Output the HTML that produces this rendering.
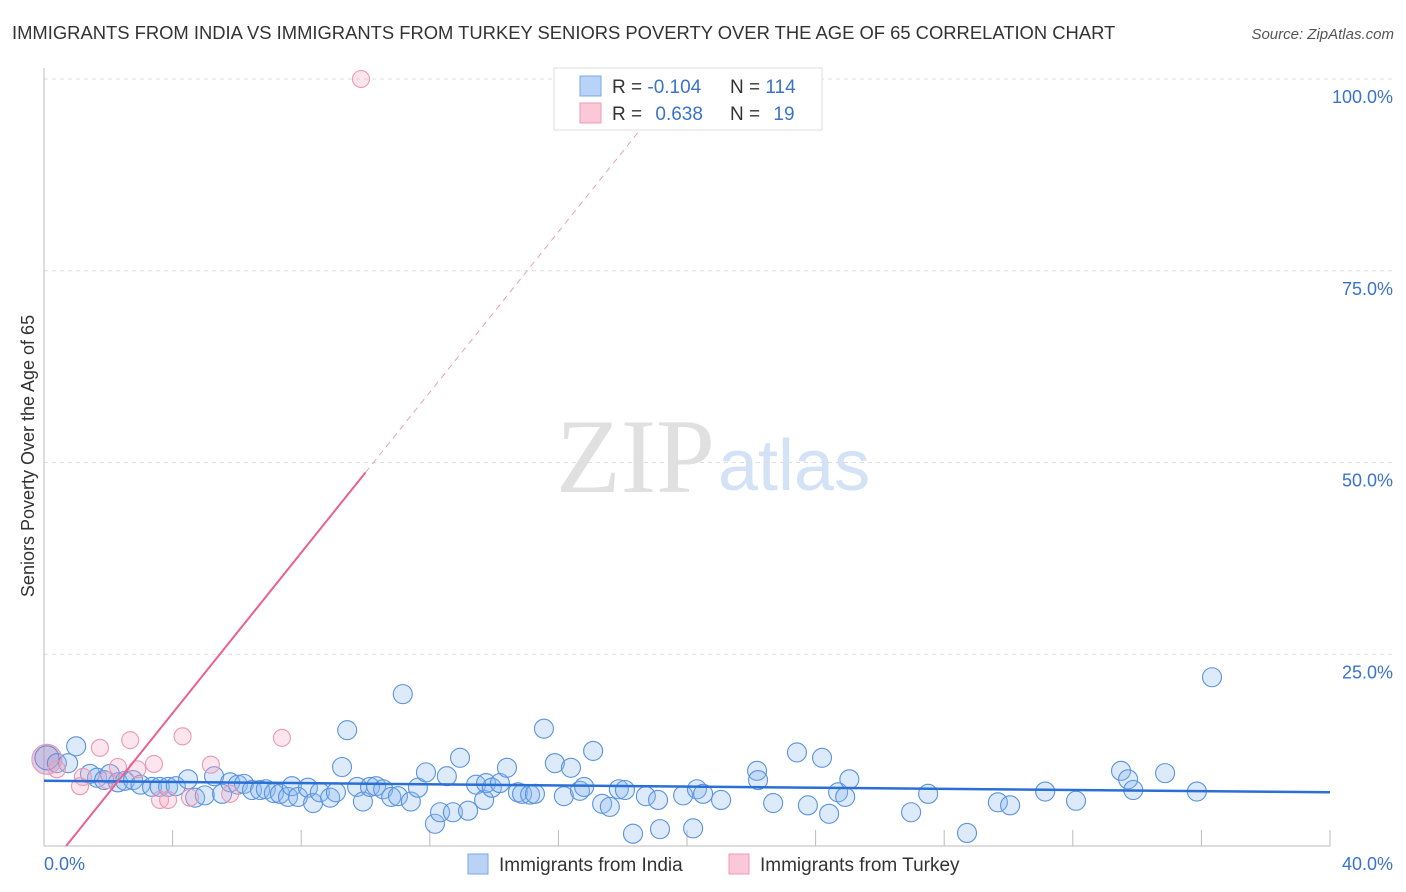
<!DOCTYPE html>
<html><head><meta charset="utf-8"><style>
body{margin:0;background:#fff;font-family:"Liberation Sans",sans-serif;}
#wrap{position:relative;width:1406px;height:892px;overflow:hidden}
</style></head><body>
<div id="wrap">
<svg id="svg" width="1406" height="892" xmlns="http://www.w3.org/2000/svg">
<text x="12" y="39" font-size="18.4" fill="#333">IMMIGRANTS FROM INDIA VS IMMIGRANTS FROM TURKEY SENIORS POVERTY OVER THE AGE OF 65 CORRELATION CHART</text>
<text x="1394" y="39" font-size="15" fill="#555" font-style="italic" text-anchor="end">Source: ZipAtlas.com</text>
<text transform="translate(34,456) rotate(-90)" font-size="18" fill="#333" text-anchor="middle">Seniors Poverty Over the Age of 65</text>
<text x="715" y="492" font-size="106" fill="#e0e0e0" font-family="Liberation Serif,serif" text-anchor="end">ZIP</text>
<text x="718" y="490" font-size="72" fill="#d3e2f5" text-anchor="start">atlas</text>
<g id="grid"></g><g id="pts"></g><g id="lines"></g>
<g>
<rect x="554" y="68" width="268" height="62" fill="#fff" stroke="#ddd"/>
<rect x="580" y="76" width="21" height="20" fill="#b8d3f5" stroke="#7aa7e6"/>
<rect x="580" y="103" width="21" height="20" fill="#fbc8d8" stroke="#ef9ab6"/>
<text x="612" y="93" font-size="19" fill="#333">R = <tspan fill="#3b73c9">-0.104</tspan></text>
<text x="730" y="93" font-size="19" fill="#333">N = <tspan fill="#3b73c9">114</tspan></text>
<text x="612" y="120" font-size="19" fill="#333">R = <tspan fill="#3b73c9" dx="8">0.638</tspan></text>
<text x="730" y="120" font-size="19" fill="#333">N = <tspan fill="#3b73c9" dx="8">19</tspan></text>
</g>
<g>
<rect x="468" y="854" width="20" height="20" fill="#b8d3f5" stroke="#7aa7e6"/>
<text x="499" y="871" font-size="19" fill="#333">Immigrants from India</text>
<rect x="729" y="854" width="20" height="20" fill="#fbc8d8" stroke="#ef9ab6"/>
<text x="760" y="871" font-size="19" fill="#333">Immigrants from Turkey</text>
</g>
</svg>
</div>
<script>
const xTicks=[0,4,8,12,16,20,24,28,32,36,40];
const yTicks=[25,50,75,100];
const yTickLabels=["25.0%","50.0%","75.0%","100.0%"];
const indiaX=[0.09,0.4,0.75,1.0,1.43,1.65,1.87,2.05,2.3,2.52,2.77,3.0,3.36,3.6,3.86,4.1,4.48,4.7,5.0,5.29,5.54,5.79,6.03,6.22,6.47,6.72,6.9,7.15,7.34,7.59,7.71,7.9,8.21,8.37,8.58,8.9,9.08,9.27,9.43,9.74,9.92,10.14,10.33,10.55,10.8,11.01,11.16,11.41,11.63,11.88,12.16,12.32,12.53,12.72,12.94,13.19,13.44,13.69,13.75,13.93,14.18,14.4,14.74,14.87,15.12,15.27,15.55,15.89,16.17,16.39,16.67,16.8,17.08,17.36,17.6,17.88,18.07,18.32,18.72,19.1,19.16,19.88,20.19,20.31,20.5,21.06,22.18,22.21,22.68,23.42,23.76,24.2,24.42,24.7,24.92,25.05,26.97,27.5,28.71,29.67,30.05,31.14,32.1,33.5,33.72,33.88,34.87,35.86,36.33];
const indiaY=[11.5,10.8,10.8,13.0,9.4,8.9,8.6,9.4,8.3,8.5,8.6,8.0,7.7,7.7,7.7,7.8,8.7,6.3,6.6,9.1,6.8,8.3,8.0,8.1,7.3,7.3,7.4,6.9,6.8,6.4,7.8,6.4,7.6,5.6,7.0,6.3,7.0,10.3,15.1,7.7,5.8,7.7,7.8,7.4,6.4,6.5,19.8,5.8,7.6,9.6,2.9,4.4,9.1,4.4,11.5,4.6,8.0,6.0,8.2,7.6,8.2,10.2,7.0,6.8,6.7,6.8,15.3,10.8,6.5,10.2,7.2,7.7,12.4,5.5,5.1,7.4,7.3,1.6,6.5,6.0,2.2,6.6,2.3,7.4,6.8,6.0,9.8,8.6,5.6,12.2,5.3,11.5,4.2,7.0,6.4,8.7,4.4,6.8,1.7,5.7,5.3,7.1,5.9,9.8,8.7,7.3,9.5,7.1,22.0];
const turkeyX=[0.09,0.4,1.21,1.12,1.74,1.96,2.3,2.68,2.9,3.42,3.61,3.86,4.31,4.54,5.19,5.79,7.4,9.86];
const turkeyY=[11.3,10.0,9.0,7.8,12.8,8.6,10.3,13.8,10.0,10.7,6.0,6.0,14.3,6.3,10.6,6.8,14.1,100];
const indiaTrend=[8.5,7.0];
const turkeySlope=5.23, turkeyIntercept=-3.6;
const X0=44,X1=1330,Y0=846,Y1=79;
const sx=v=>X0+(v/40)*(X1-X0);
const sy=v=>Y0-(v/100)*(Y0-Y1);
const NS="http://www.w3.org/2000/svg";
function mk(tag,attrs,parent){const e=document.createElementNS(NS,tag);for(const k in attrs)e.setAttribute(k,attrs[k]);parent.appendChild(e);return e;}
const grid=document.getElementById('grid'),pts=document.getElementById('pts'),lines=document.getElementById('lines');
yTicks.forEach((t,i)=>{
 const l=mk('line',{x1:X0,x2:1394,y1:sy(t),y2:sy(t),stroke:'#ddd','stroke-dasharray':'4,4'},grid);
 
 
 const tx=mk('text',{x:1393,y:sy(t)+24,'font-size':18,fill:'#3b73c9','text-anchor':'end'},grid);
 tx.textContent=yTickLabels[i];
 
 
});
mk('line',{x1:X0,x2:X0,y1:68,y2:Y0,stroke:'#bbb'},grid);
mk('line',{x1:X0,x2:X1,y1:Y0,y2:Y0,stroke:'#bbb'},grid);
xTicks.forEach(t=>{if(t>0){const l=mk('line',{x1:sx(t),x2:sx(t),y1:Y0-16,y2:Y0,stroke:'#bbb'},grid);
 
 }});
const xl=mk('text',{x:44,y:870,'font-size':18,fill:'#3b73c9'},grid);xl.textContent='0.0%';


const xr=mk('text',{x:1393,y:870,'font-size':18,fill:'#3b73c9','text-anchor':'end'},grid);xr.textContent='40.0%';


indiaX.forEach((x,i)=>{
 const c=mk('circle',{cx:sx(x),cy:sy(indiaY[i]),r:i==0?12:9.5,fill:'rgba(140,185,240,0.3)',stroke:'#5b93de','stroke-width':1.1},pts);
 
 
});
turkeyX.forEach((x,i)=>{
 const c=mk('circle',{cx:sx(x),cy:sy(turkeyY[i]),r:i==0?15:8.5,fill:i==0?'rgba(170,120,180,0.35)':'rgba(245,170,195,0.3)',stroke:'#eb98b3','stroke-width':1.1},pts);
 
 
});
const bl=mk('line',{x1:sx(0),y1:sy(indiaTrend[0]),x2:sx(40),y2:sy(indiaTrend[1]),stroke:'#2a6fd6','stroke-width':2.5},lines);


const tf=v=>turkeySlope*v+turkeyIntercept;
const x0=-turkeyIntercept/turkeySlope, xs=10;
const pl=mk('line',{x1:sx(x0),y1:sy(0),x2:sx(xs),y2:sy(tf(xs)),stroke:'#e8628f','stroke-width':2},lines);


const xe=(93-turkeyIntercept)/turkeySlope;
const pd=mk('line',{x1:sx(xs),y1:sy(tf(xs)),x2:sx(xe),y2:sy(93),stroke:'#eaa0b8','stroke-width':1,'stroke-dasharray':'6,5'},lines);


</script>
</body></html>
